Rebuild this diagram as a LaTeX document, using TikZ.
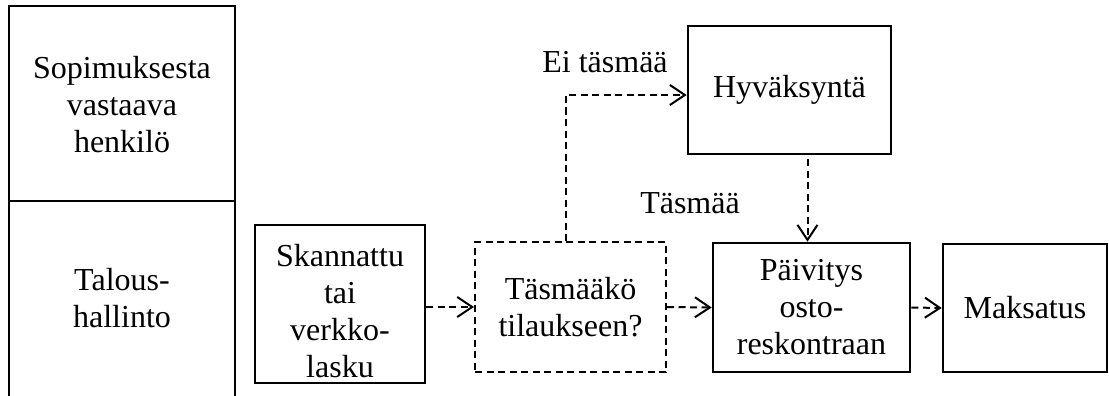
\documentclass[tikz,border=0pt]{standalone}
\usepackage{fontspec}
\setmainfont{Liberation Serif}
\usetikzlibrary{arrows.meta}
\begin{document}
\begin{tikzpicture}[x=1pt,y=-1pt,
  every node/.style={font=\fontsize{32}{37}\selectfont, inner sep=0pt},
  box/.style={draw, line width=2.6pt},
  dbox/.style={draw, line width=2pt, dash pattern=on 7pt off 4.5pt},
  lane/.style={line width=2.4pt},
  flow/.style={line width=2pt, dash pattern=on 7pt off 4.5pt, -{Straight Barb[length=15pt,width=20pt,line width=2pt]}},
  txt/.style={align=center}]
\useasboundingbox (0,0) rectangle (1109,396);
% lanes
\coordinate (ltop) at (9,6);
\coordinate (rtop) at (235,6);
\coordinate (lbot) at (9,397);
\coordinate (rbot) at (235,397);
\coordinate (lmid) at (9,201);
\coordinate (rmid) at (235,201);
\draw[lane] (lbot) -- (ltop) -- (rtop) -- (rbot);
\draw[lane] (lmid) -- (rmid);
\node[txt] (lane1) at (122,105) {Sopimuksesta\\vastaava\\henkilö};
\node[txt] (lane2) at (122,298) {Talous-\\hallinto};
% boxes
\node[box, minimum width=170, minimum height=158] (skan) at (340,304) {};
\node[txt] (skant) at (340,311) {Skannattu\\tai\\verkko-\\lasku};
\node[dbox, minimum width=191, minimum height=130, txt] (tas) at (570.5,307) {Täsmääkö\\tilaukseen?};
\node[box, minimum width=203, minimum height=128, txt] (hyv) at (789.5,90) {Hyväksyntä};
\node[box, minimum width=197, minimum height=129, txt] (pai) at (811.5,307.5) {Päivitys\\osto-\\reskontraan};
\node[box, minimum width=164, minimum height=128, txt] (mak) at (1025,308) {Maksatus};
% labels
\node[anchor=base] (ei) at (605,73) {Ei täsmää};
\node[anchor=base] (tm) at (690,213) {Täsmää};
% helper coordinates
\coordinate (tastop) at ([xshift=-5pt]tas.north);
\coordinate (hyvin) at ([yshift=-5pt]hyv.west);
\coordinate (paitop) at ([xshift=-4pt]pai.north);
\coordinate (hyvbot) at ([yshift=-4pt]hyv.south);
% connectors
\draw[flow] (skan.east |- tas.west) -- (tas.west);
\draw[flow] (tas.east) -- (pai.west);
\draw[flow] (pai.east) -- (mak.west);
\draw[flow] (tastop) |- (hyvin);
\draw[flow] (hyvbot -| paitop) -- (paitop);
\end{tikzpicture}
\end{document}
